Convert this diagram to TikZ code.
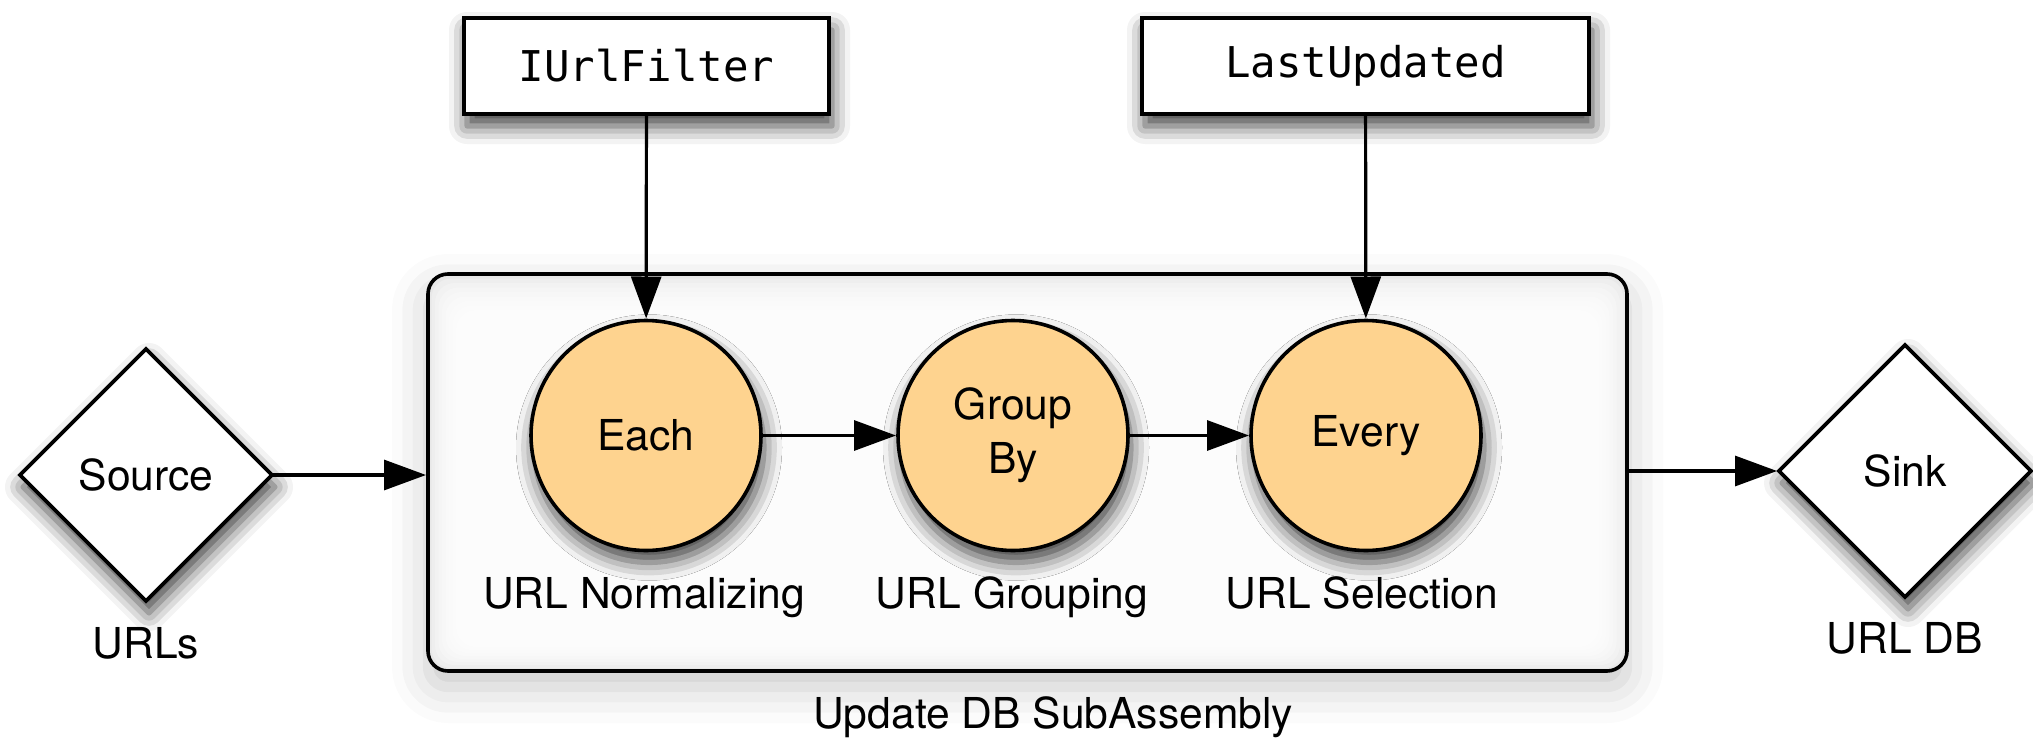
\documentclass[tikz,border=0pt]{standalone}
\usepackage{fontspec}
\setmainfont{TeX Gyre Heros}
\setmonofont{DejaVu Sans Mono}
\usetikzlibrary{arrows.meta,shapes.geometric,shadows.blur}
\definecolor{opfill}{RGB}{254,211,143}
\definecolor{asmfill}{RGB}{232,232,232}

\begin{document}
\begin{tikzpicture}[x=0.5pt,y=-0.5pt,
  every node/.style={font=\fontsize{21.3pt}{27pt}\selectfont, inner sep=0pt, outer sep=0pt},
  nodeshadow/.style={blur shadow={shadow xshift=1.5pt, shadow yshift=-6pt,
      shadow blur radius=9pt, shadow opacity=75}},
  tap/.style={diamond, aspect=1, draw, line width=1.8pt, fill=white,
      minimum size=126pt, nodeshadow},
  param/.style={rectangle, draw, line width=1.8pt, fill=white,
      minimum height=48pt, font=\ttfamily\fontsize{21.2pt}{26pt}\selectfont, nodeshadow},
  pipe/.style={circle, draw, line width=1.8pt, fill=opfill,
      minimum size=115pt, align=center, nodeshadow},
  asm/.style={rectangle, rounded corners=10pt, line width=1.8pt,
      minimum width=599.5pt, minimum height=198.5pt},
  caption/.style={anchor=base},
  flow/.style={-{Triangle[length=21pt,width=15pt]}, line width=1.6pt, shorten >=1pt},
]
\useasboundingbox (0,0) rectangle (2033,739);

% sub-assembly frame: soft outer shadow, grey fill, lighter towards the middle
\node[asm, fill=asmfill, blur shadow={shadow xshift=0pt, shadow yshift=-8pt,
      shadow blur radius=18pt, shadow opacity=22}] (subfill) at (1027.5,472.5) {};
\foreach \i in {1,...,12} {
  \fill[white, opacity=0.28, rounded corners=10pt]
    (428+3.5*\i, 274+4.5*\i) rectangle (1627-3.5*\i, 671-3*\i);
}
\node[asm, draw] (sub) at (1027.5,472.5) {};
\node[caption] (subcap) at (1053,728) {Update DB SubAssembly};

% source and sink taps
\node[tap] (src) at (146,475) {Source};
\node[caption] (srccap) at (146,658) {URLs};
\node[tap] (sink) at (1905,471) {Sink};
\node[caption] (sinkcap) at (1905,653) {URL DB};

% parameters feeding the pipes
\node[param, minimum width=182.5pt] (filter) at (646.5,66) {IUrlFilter};
\node[param, minimum width=223.5pt] (lastupd) at (1365.5,66) {LastUpdated};

% pipes
\node[pipe] (each) at (646,435.5) {Each};
\node[pipe] (group) at (1013,435.5) {Group\\By};
\node[pipe] (every) at (1366,435.5) {Every};
\node[caption] (eachcap) at (644,608) {URL Normalizing};
\node[caption] (groupcap) at (1012,608) {URL Grouping};
\node[caption] (everycap) at (1362,608) {URL Selection};

% connections
\draw[flow] (src.east) -- (src.east -| sub.west);
\draw[flow] (sub.east |- sink.west) -- (sink.west);
\draw[flow] (filter) -- (each);
\draw[flow] (lastupd) -- (every);
\draw[flow] (each) -- (group);
\draw[flow] (group) -- (every);
\end{tikzpicture}
\end{document}
